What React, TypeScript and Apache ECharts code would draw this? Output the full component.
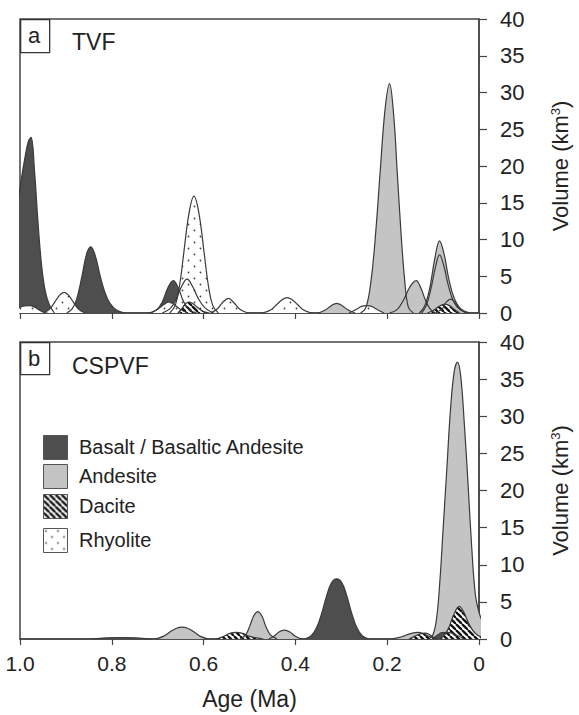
import React, { useEffect, useRef } from 'react';
import * as echarts from 'echarts';

type Curve = [number, number][];

// ---------- Data (age in Ma, volume in km3) ----------
const xTicks = [1.0, 0.8, 0.6, 0.4, 0.2, 0];
const yTicks = [0, 5, 10, 15, 20, 25, 30, 35, 40];

// Panel a — TVF
const tvfAndesite: Curve[] = [
  [[0.258, 0], [0.246, 0.8], [0.235, 4.5], [0.225, 11], [0.215, 19.5], [0.205, 27.5], [0.195, 31.2], [0.186, 27], [0.178, 19], [0.17, 11], [0.162, 4.5], [0.154, 0.8], [0.143, 0]],
  [[0.35, 0], [0.335, 0.4], [0.322, 1.0], [0.31, 1.3], [0.298, 1.0], [0.285, 0.4], [0.27, 0]],
  [[0.195, 0], [0.178, 0.5], [0.164, 1.8], [0.151, 3.5], [0.137, 4.4], [0.126, 3.3], [0.117, 1.8], [0.107, 0.6], [0.095, 0]],
  [[0.13, 0], [0.118, 1], [0.107, 3.5], [0.096, 7.5], [0.086, 9.8], [0.076, 8], [0.066, 4.7], [0.054, 2], [0.04, 0.6], [0.018, 0]],
  [[0.125, 0], [0.115, 1], [0.105, 3.2], [0.095, 6.2], [0.086, 7.9], [0.077, 6.5], [0.067, 3.8], [0.055, 1.5], [0.04, 0.4], [0.022, 0]],
  [[0.095, 0], [0.08, 0.6], [0.071, 1.5], [0.062, 1.9], [0.053, 1.5], [0.043, 0.6], [0.028, 0]],
];
const tvfBasalt: Curve[] = [
  [[1.01, 12], [1.0, 17], [0.989, 21.2], [0.982, 23.3], [0.976, 23.9], [0.968, 19], [0.961, 12.5], [0.953, 6.5], [0.945, 3], [0.936, 1.1], [0.925, 0]],
  [[0.898, 0], [0.886, 0.6], [0.876, 2], [0.865, 5], [0.855, 8], [0.846, 9], [0.836, 7.8], [0.826, 5.2], [0.815, 2.8], [0.804, 1.3], [0.79, 0.4], [0.772, 0]],
  [[0.72, 0], [0.703, 0.4], [0.69, 1.5], [0.678, 3.4], [0.666, 4.4], [0.655, 3.4], [0.644, 1.6], [0.632, 0.5], [0.615, 0]],
];
const tvfRhyolite: Curve[] = [
  [[1.01, 0.6], [1.0, 0.8], [0.99, 0.95], [0.979, 1.0], [0.968, 0.8], [0.958, 0.4], [0.948, 0.1], [0.94, 0]],
  [[0.95, 0], [0.936, 0.5], [0.924, 1.5], [0.914, 2.4], [0.904, 2.8], [0.894, 2.4], [0.884, 1.5], [0.872, 0.5], [0.858, 0]],
  [[0.674, 0], [0.662, 1], [0.653, 3.5], [0.6435, 8], [0.632, 13.5], [0.621, 15.9], [0.61, 13.5], [0.5985, 8], [0.589, 3.5], [0.58, 1], [0.568, 0]],
  [[0.69, 0], [0.673, 0.6], [0.661, 1.7], [0.648, 3.6], [0.636, 4.6], [0.624, 3.6], [0.611, 1.9], [0.597, 0.7], [0.578, 0]],
  [[0.715, 0], [0.7, 0.5], [0.688, 1.1], [0.675, 1.5], [0.663, 1.1], [0.651, 0.5], [0.635, 0]],
  [[0.585, 0], [0.571, 0.5], [0.559, 1.4], [0.546, 2.0], [0.534, 1.4], [0.521, 0.5], [0.503, 0]],
  [[0.472, 0], [0.454, 0.4], [0.44, 1.2], [0.429, 1.8], [0.418, 2.1], [0.407, 1.8], [0.396, 1.2], [0.382, 0.4], [0.365, 0]],
  [[0.283, 0], [0.267, 0.5], [0.256, 0.9], [0.245, 1.0], [0.234, 0.9], [0.223, 0.5], [0.207, 0]],
];
const tvfDacite: Curve[] = [
  [[0.656, 0], [0.646, 0.7], [0.639, 1.3], [0.632, 1.5], [0.624, 1.3], [0.612, 0.7], [0.6, 0.2], [0.587, 0]],
  [[0.112, 0], [0.098, 0.4], [0.087, 0.9], [0.075, 1.2], [0.064, 1.0], [0.054, 0.5], [0.042, 0]],
];

// Panel b — CSPVF
const cspvfAndesite: Curve[] = [
  [[0.705, 0], [0.688, 0.35], [0.672, 1.0], [0.659, 1.45], [0.647, 1.6], [0.635, 1.45], [0.622, 1.0], [0.607, 0.35], [0.59, 0]],
  [[0.52, 0], [0.508, 0.6], [0.499, 1.8], [0.491, 3.1], [0.482, 3.7], [0.473, 3.1], [0.465, 1.8], [0.455, 0.6], [0.44, 0]],
  [[0.458, 0], [0.446, 0.4], [0.436, 0.95], [0.424, 1.2], [0.412, 0.95], [0.401, 0.4], [0.387, 0]],
  [[0.19, 0], [0.168, 0.3], [0.151, 0.7], [0.133, 0.9], [0.12, 0.7], [0.107, 0.3], [0.095, 0]],
  [[0.11, 0], [0.1, 0.6], [0.092, 3], [0.085, 8], [0.078, 15], [0.07, 23], [0.062, 31], [0.054, 36], [0.047, 37.3], [0.04, 35.5], [0.032, 29], [0.024, 21], [0.016, 12.5], [0.008, 6], [0.0, 3.6], [-0.01, 2]],
];
const cspvfBasalt: Curve[] = [
  [[0.845, 0], [0.812, 0.15], [0.78, 0.2], [0.748, 0.15], [0.715, 0]],
  [[0.38, 0], [0.366, 0.4], [0.354, 1.5], [0.343, 3.4], [0.332, 5.8], [0.321, 7.6], [0.31, 8.1], [0.299, 7.6], [0.288, 5.8], [0.277, 3.4], [0.266, 1.5], [0.254, 0.4], [0.24, 0]],
  [[0.102, 0], [0.091, 0.5], [0.081, 0.85], [0.07, 0.9], [0.059, 0.8], [0.048, 0.5], [0.033, 0]],
];
const cspvfRhyolite: Curve[] = [];
const cspvfDacite: Curve[] = [
  [[0.572, 0], [0.556, 0.35], [0.543, 0.75], [0.529, 0.9], [0.515, 0.75], [0.5, 0.35], [0.47, 0]],
  [[0.152, 0], [0.139, 0.4], [0.128, 0.7], [0.118, 0.8], [0.108, 0.6], [0.099, 0.2], [0.088, 0]],
  [[0.085, 0], [0.074, 0.6], [0.064, 1.8], [0.055, 3.3], [0.043, 4.4], [0.033, 3.6], [0.024, 2.3], [0.014, 1.2], [0.005, 0.6], [0, 0.4], [-0.01, 0.2]],
];

const legendLabels = ['Basalt / Basaltic Andesite', 'Andesite', 'Dacite', 'Rhyolite'];

// ---------- Styles ----------
const FONT = 'Liberation Sans, Arial, Helvetica, sans-serif';
const OUTLINE = '#3a3a3a';
const BASALT = '#4e4e4e';
const ANDESITE = '#c4c4c4';

function hatchPattern() {
  const s = 6;
  const c = document.createElement('canvas');
  c.width = s; c.height = s;
  const ctx = c.getContext('2d')!;
  ctx.fillStyle = '#ffffff';
  ctx.fillRect(0, 0, s, s);
  ctx.strokeStyle = '#111111';
  ctx.lineWidth = 2.3;
  for (let k = -1; k <= 1; k++) {
    ctx.beginPath();
    ctx.moveTo(k * s, 0);
    ctx.lineTo(k * s + s, s);
    ctx.stroke();
  }
  return { image: c.toDataURL(), repeat: 'repeat', imageWidth: s, imageHeight: s };
}

function dotPattern() {
  const s = 12;
  const c = document.createElement('canvas');
  c.width = s; c.height = s;
  const ctx = c.getContext('2d')!;
  ctx.fillStyle = '#ffffff';
  ctx.fillRect(0, 0, s, s);
  ctx.fillStyle = '#444444';
  ctx.beginPath(); ctx.arc(2.5, 2.5, 0.9, 0, Math.PI * 2); ctx.fill();
  ctx.beginPath(); ctx.arc(8.5, 8.5, 0.9, 0, Math.PI * 2); ctx.fill();
  return { image: c.toDataURL(), repeat: 'repeat', imageWidth: s, imageHeight: s };
}

export default function App() {
  const ref = useRef<HTMLDivElement>(null);

  useEffect(() => {
    if (!ref.current) return;
    const chart = echarts.init(ref.current, undefined, { renderer: 'svg' });
    const hatch = hatchPattern();
    const dots = dotPattern();

    const mk = (curves: Curve[], name: string, fill: any, grid: number) =>
      curves.map((c) => ({
        type: 'line',
        name,
        xAxisIndex: grid,
        yAxisIndex: grid,
        data: c,
        smooth: 0.4,
        symbol: 'none',
        clip: true,
        lineStyle: { color: OUTLINE, width: 1.2 },
        itemStyle: { color: OUTLINE },
        areaStyle: { color: fill, opacity: 1 },
        silent: true,
      }));

    const series: any[] = [
      ...mk(tvfAndesite, 'Andesite', ANDESITE, 0),
      ...mk(tvfBasalt, 'Basalt / Basaltic Andesite', BASALT, 0),
      ...mk(tvfRhyolite, 'Rhyolite', dots, 0),
      ...mk(tvfDacite, 'Dacite', hatch, 0),
      ...mk(cspvfAndesite, 'Andesite', ANDESITE, 1),
      ...mk(cspvfBasalt, 'Basalt / Basaltic Andesite', BASALT, 1),
      ...mk(cspvfRhyolite, 'Rhyolite', dots, 1),
      ...mk(cspvfDacite, 'Dacite', hatch, 1),
    ];

    const xAxisBase = (grid: number, showLabel: boolean) => ({
      type: 'value',
      gridIndex: grid,
      min: 0,
      max: 1,
      interval: 0.2,
      inverse: true,
      axisLine: { show: true, onZero: false, lineStyle: { color: '#444', width: 1.5 } },
      axisTick: { show: true, inside: false, length: 6, lineStyle: { color: '#444', width: 1.2 } },
      splitLine: { show: false },
      axisLabel: {
        show: showLabel,
        fontSize: 21,
        fontFamily: FONT,
        color: '#222',
        margin: 14,
        formatter: (v: number) => {
          const i = xTicks.findIndex((t) => Math.abs(t - v) < 1e-6);
          return i === -1 ? '' : (xTicks[i] === 0 ? '0' : xTicks[i].toFixed(1));
        },
      },
      name: showLabel ? 'Age (Ma)' : '',
      nameLocation: 'middle',
      nameGap: 48,
      nameTextStyle: { fontSize: 23, fontFamily: FONT, color: '#222' },
    });

    const yAxisBase = (grid: number) => ({
      type: 'value',
      gridIndex: grid,
      position: 'right',
      min: yTicks[0],
      max: yTicks[yTicks.length - 1],
      interval: 5,
      axisLine: { show: true, lineStyle: { color: '#444', width: 1.5 } },
      axisTick: { show: true, inside: false, length: 8, lineStyle: { color: '#444', width: 1.2 } },
      splitLine: { show: false },
      axisLabel: { fontSize: 22, fontFamily: FONT, color: '#222', margin: 21 },
      name: 'Volume (km{s|3})',
      nameLocation: 'middle',
      nameRotate: 90,
      nameGap: 70,
      nameTextStyle: {
        fontSize: 22,
        fontFamily: FONT,
        color: '#222',
        rich: { s: { fontSize: 13, fontFamily: FONT, color: '#222', verticalAlign: 'top', padding: [0, 0, 8, 0] } },
      },
    });

    const labelBox = (y: number, h: number, letter: string, title: string, ty: number) => [
      { type: 'rect', left: 20, top: y, shape: { width: 29, height: h }, style: { fill: '#fff', stroke: '#333', lineWidth: 1.3 }, z: 100 },
      { type: 'text', x: 34, y: y + h / 2, style: { text: letter, fontSize: 22, fontFamily: FONT, fill: '#222', align: 'center', verticalAlign: 'middle', textAlign: 'center', textVerticalAlign: 'middle' }, z: 101 },
      { type: 'text', x: 72, y: ty, style: { text: title, fontSize: 23, fontFamily: FONT, fill: '#222', align: 'left', verticalAlign: 'middle', textAlign: 'left', textVerticalAlign: 'middle' }, z: 101 },
    ];

    const legendFills = [BASALT, ANDESITE, hatch, dots];
    const legendTops = [435, 464, 494, 528];
    const legendItems: any[] = [];
    legendLabels.forEach((lab, i) => {
      legendItems.push({ type: 'rect', left: 43, top: legendTops[i], shape: { width: 24, height: 24 }, style: { fill: legendFills[i], stroke: '#555', lineWidth: 1 }, z: 100 });
      legendItems.push({ type: 'text', x: 79, y: legendTops[i] + 12, style: { text: lab, fontSize: 20, fontFamily: FONT, fill: '#222', align: 'left', verticalAlign: 'middle', textAlign: 'left', textVerticalAlign: 'middle' }, z: 100 });
    });

    chart.setOption({
      animation: false,
      backgroundColor: '#ffffff',
      grid: [
        { left: 20, top: 19, width: 467, height: 294, show: true, borderColor: '#444', borderWidth: 1.5, backgroundColor: 'transparent' },
        { left: 20, top: 342, width: 467, height: 297, show: true, borderColor: '#444', borderWidth: 1.5, backgroundColor: 'transparent' },
      ],
      xAxis: [xAxisBase(0, false), xAxisBase(1, true)],
      yAxis: [yAxisBase(0), yAxisBase(1)],
      series,
      graphic: [
        ...labelBox(19, 33, 'a', 'TVF', 42),
        ...labelBox(342, 32, 'b', 'CSPVF', 366),
        ...legendItems,
      ],
    });

    return () => chart.dispose();
  }, []);

  return (
    <div
      ref={ref}
      style={{ position: 'absolute', left: 0, top: 0, width: 579, height: 715, background: '#fff' }}
    />
  );
}
